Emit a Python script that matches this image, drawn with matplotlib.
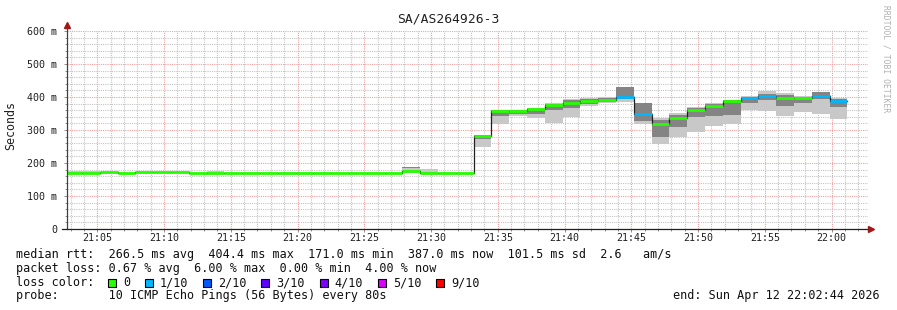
import numpy as np
import matplotlib
matplotlib.use("Agg")
import matplotlib.pyplot as plt
from matplotlib.ticker import MultipleLocator, FuncFormatter
from matplotlib.patches import Rectangle

W, H = 897, 310
MONO = "DejaVu Sans Mono"

title = "SA/AS264926-3"
# time axis in minutes after 21:00
bin_start0 = 2 + 31 / 60      # first 80 s bin starts 21:02:31
bin_len = 80 / 60
view = (2 + 44 / 60, 62 + 44 / 60)   # 21:02:44 .. 22:02:44

# median rtt per bin (ms)
rtt_median = [171, 171, 174, 171, 174, 174, 174, 171, 171, 171, 171, 171,
              171, 171, 171, 171, 171, 171, 171, 176, 171, 171, 171,
              283, 358, 358, 363, 375, 383, 389, 392, 401, 350, 317, 336,
              361, 372, 389, 397, 402, 398, 398, 404.4, 387]
# smoke: outer range and inner (dark) range (ms)
smoke_lo = [171] * 23 + [249, 317, 342, 337, 320, 338, 373, 381, 386, 318,
                         257, 278, 295, 312, 317, 361, 358, 342, 355, 349, 334]
smoke_hi = [176, 176, 174, 171, 174, 174, 174, 171, 175, 171, 171, 171,
            171, 171, 171, 171, 171, 171, 171, 189, 182, 171, 171,
            285, 362, 361, 366, 381, 393, 396, 401, 431, 381, 335, 351,
            369, 381, 392, 403, 419, 413, 403, 415, 396]
core_lo = [171, 171, 174, 171, 174, 174, 174, 171, 171, 171, 171, 171,
           171, 171, 171, 171, 171, 171, 171, 184, 171, 171, 171,
           272, 343, 348, 350, 360, 368, 380, 386, 395, 328, 280, 310,
           338, 342, 345, 381, 392, 373, 381, 395, 370]
core_hi = [171, 171, 174, 171, 174, 174, 174, 171, 171, 171, 171, 171,
           171, 171, 171, 171, 171, 171, 171, 189, 171, 171, 171,
           285, 362, 360, 364, 378, 390, 393, 398, 431, 381, 330, 346,
           366, 378, 390, 400, 408, 405, 401, 415, 394]
# lost pings out of 10 per bin
loss = [0] * 31 + [1, 1, 0, 0, 0, 0, 0, 1, 1, 0, 0, 1, 1]

loss_levels = ["0", "1/10", "2/10", "3/10", "4/10", "5/10", "9/10"]
loss_colors = ["#26ff00", "#00b8ff", "#0059ff", "#5e00ff", "#7e00ff", "#dd00ff", "#ff0000"]
loss_color_of = {0: 0, 1: 1, 2: 2, 3: 3, 4: 4, 5: 5, 9: 6}

stats_rtt = "median rtt:  266.5 ms avg  404.4 ms max  171.0 ms min  387.0 ms now  101.5 ms sd  2.6   am/s"
stats_loss = "packet loss: 0.67 % avg  6.00 % max  0.00 % min  4.00 % now"
probe_txt = "probe:       10 ICMP Echo Pings (56 Bytes) every 80s"
end_txt = "end: Sun Apr 12 22:02:44 2026"

n = len(rtt_median)
edges = bin_start0 + bin_len * np.arange(n + 1)


def ext(a):
    a = np.asarray(a, dtype=float)
    return np.append(a, a[-1])


fig = plt.figure(figsize=(W / 100, H / 100), dpi=100)
fig.patch.set_facecolor("white")
ax = fig.add_axes([67 / W, 1 - 229 / H, (868 - 67) / W, (229 - 31) / H])
ax.set_xlim(*view)
ax.set_ylim(0, 600)

# grid
ax.xaxis.set_major_locator(MultipleLocator(5))
ax.xaxis.set_minor_locator(MultipleLocator(1))
ax.yaxis.set_major_locator(MultipleLocator(100))
ax.yaxis.set_minor_locator(MultipleLocator(20))
ax.grid(which="minor", color="#c4c4c4", lw=0.8, ls=(0, (1, 1)))
ax.grid(which="major", color="#f0a0a0", lw=0.8, ls=(0, (1, 1)))
ax.set_axisbelow(True)

# smoke
ax.fill_between(edges, ext(smoke_lo), ext(smoke_hi), step="post",
                color="#c8c8c8", lw=0, zorder=2)
ax.fill_between(edges, ext(core_lo), ext(core_hi), step="post",
                color="#848484", lw=0, zorder=3)

# median line: thin dark step + thick loss-coloured segments
ax.step(edges, ext(rtt_median), where="post", color="#202020", lw=0.9, zorder=4)
for i in range(n):
    c = loss_colors[loss_color_of[loss[i]]]
    ax.hlines(rtt_median[i], max(edges[i], view[0]), edges[i + 1],
              color=c, lw=2.0, zorder=5)

for s in ax.spines.values():
    s.set_visible(False)
ax.plot([0, 0], [0, 1.025], transform=ax.transAxes, color="#404040", lw=0.9,
        clip_on=False, zorder=6)
ax.plot([-0.006, 1.002], [0, 0], transform=ax.transAxes, color="#202020", lw=0.9,
        clip_on=False, zorder=6)
ax.plot([0], [1.03], transform=ax.transAxes, marker="^", ms=4, color="#a01818",
        clip_on=False, zorder=7)
ax.plot([1.004], [0], transform=ax.transAxes, marker=">", ms=4, color="#a01818",
        clip_on=False, zorder=7)

ax.xaxis.set_major_formatter(FuncFormatter(lambda m, p: f"{21 + int(round(m)) // 60}:{int(round(m)) % 60:02d}"))
ax.yaxis.set_major_formatter(FuncFormatter(lambda v, p: "0" if v == 0 else f"{int(v)} m"))
ax.tick_params(which="both", direction="out", color="#808080", width=0.6)
ax.tick_params(which="major", length=2.5)
ax.tick_params(which="minor", length=1.5)
ax.tick_params(axis="x", labelsize=7.2, pad=0.5)
ax.tick_params(axis="y", labelsize=7.2, pad=4.5)
for lab in ax.get_xticklabels() + ax.get_yticklabels():
    lab.set_family(MONO)
    lab.set_color("#202020")

# texts


def fx(px):
    return px / W


def fy(py):
    return 1 - py / H


fig.text(fx(448), fy(19), title, ha="center", va="center", family=MONO,
         fontsize=9.4, color="#202020")
fig.text(fx(11), fy(126), "Seconds", ha="center", va="center", rotation=90,
         family=MONO, fontsize=8.4, color="#202020")
fig.text(fx(886), fy(5), "RRDTOOL / TOBI OETIKER", ha="center", va="top",
         rotation=270, family=MONO, fontsize=5.8, color="#b0b0b0")

leg_fs = 8.45
fig.text(fx(16), fy(254.5), stats_rtt, ha="left", va="center", family=MONO,
         fontsize=leg_fs, color="#101010")
fig.text(fx(16), fy(268.5), stats_loss, ha="left", va="center", family=MONO,
         fontsize=leg_fs, color="#101010")
fig.text(fx(16), fy(282.5), "loss color:", ha="left", va="center", family=MONO,
         fontsize=leg_fs, color="#101010")
bx = 108
for lbl, col in zip(loss_levels, loss_colors):
    fig.patches.append(Rectangle((fx(bx), fy(287)), 8 / W, 8 / H,
                                 transform=fig.transFigure, facecolor=col,
                                 edgecolor="black", lw=0.8))
    fig.text(fx(bx + 15), fy(282.5), lbl, ha="left", va="center", family=MONO,
             fontsize=leg_fs, color="#101010")
    bx = bx + 15 + 7.04 * len(lbl) + 15
fig.text(fx(16), fy(296), probe_txt, ha="left", va="center", family=MONO,
         fontsize=leg_fs, color="#101010")
fig.text(fx(880), fy(296), end_txt, ha="right", va="center", family=MONO,
         fontsize=leg_fs, color="#101010")

fig.savefig("out.png", dpi=100, facecolor="white")
